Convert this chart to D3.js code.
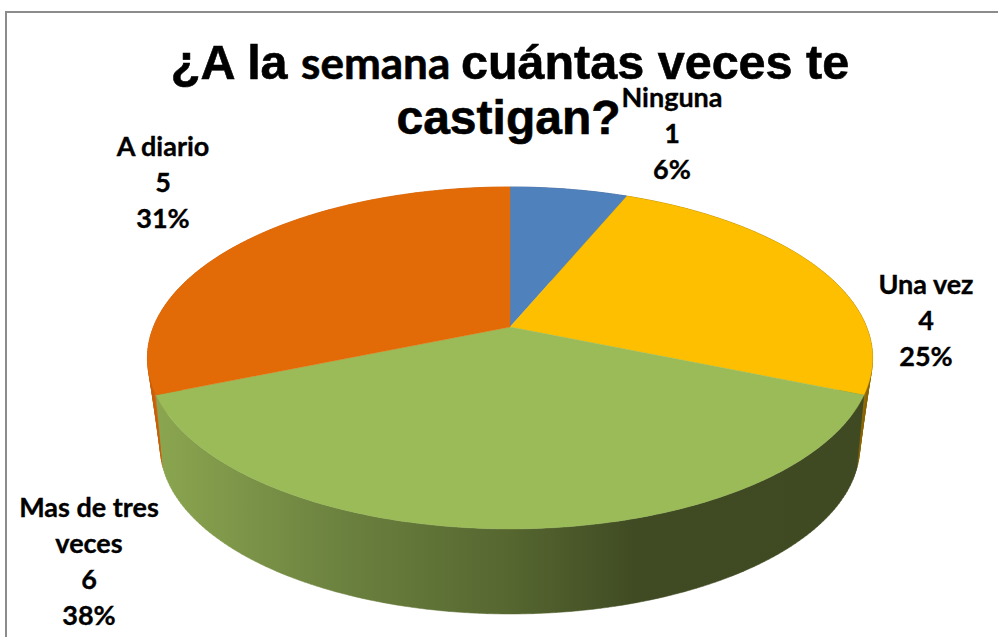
<!DOCTYPE html>
<html><head><meta charset="utf-8">
<script src="https://cdn.jsdelivr.net/npm/d3@7/dist/d3.min.js"></script>
<style>html,body{margin:0;padding:0;background:#fff;overflow:hidden}svg{display:block}</style>
</head><body>
<script>
const categories = ["Ninguna", "Una vez", "Mas de tres veces", "A diario"];
const values = [1, 4, 6, 5];
const labelLines = [["Ninguna"], ["Una vez"], ["Mas de tres", "veces"], ["A diario"]];
const titleLine1 = [["¿A la ", "arial"], ["semana ", "calibri"], ["cuántas veces te", "arial"]];
const titleLine2 = "castigan?";

const colors = ["#4f81bd", "#fdbf00", "#9bbb59", "#e26b08"];
const wallColors = ["#3a5a80", "#8a6400", "url(#greenWall)", "#c95f08"];
const labelAnchors = [[672, 107], [926, 294], [89, 517], [163, 156]];

const W = 998, H = 637;
const svg = d3.select("body").append("svg").attr("width", W).attr("height", H);

// Perspective projections of the top and bottom rims of the disc
const topRim = {cx: 510, cy: 327, a: 356.6, b: 165.4, k: -0.181};
const botRim = {cx: 510, cy: 401.8, a: 336.7, b: 154.9, k: -0.27};
const project = (p, t) => {
  const u = Math.sin(t), v = -Math.cos(t), d = 1 + p.k * v;
  return [p.cx + p.a * u / d, p.cy + p.b * v / d];
};

const pie = d3.pie().sort(null).value(d => d);
const arcs = pie(values);
const total = d3.sum(values);
const pct = d3.format(".0%");
const samples = a => {
  const n = Math.max(8, Math.ceil((a.endAngle - a.startAngle) * 60));
  return d3.range(n + 1).map(i => a.startAngle + (a.endAngle - a.startAngle) * i / n);
};

const defs = svg.append("defs");
const grad = defs.append("linearGradient").attr("id", "greenWall")
  .attr("gradientUnits", "userSpaceOnUse").attr("x1", 155).attr("x2", 860).attr("y1", 0).attr("y2", 0);
[[0, "#8ba650"], [0.25, "#6d8340"], [0.5, "#566730"], [0.68, "#404b23"], [1, "#3f4a22"]]
  .forEach(s => grad.append("stop").attr("offset", s[0]).attr("stop-color", s[1]));

// Frame
const frame = svg.append("g").attr("stroke", "#8c8c8c").attr("stroke-width", 2);
frame.append("line").attr("x1", 6).attr("x2", 6).attr("y1", 11).attr("y2", H);
frame.append("line").attr("x1", 5).attr("x2", W).attr("y1", 12).attr("y2", 12);

// Side walls, back slices first
const wallOrder = [3, 0, 1, 2];
wallOrder.forEach(i => {
  const ts = samples(arcs[i]);
  const p = d3.path();
  for (let j = 0; j < ts.length - 1; j++) {
    const a = project(topRim, ts[j]), b = project(topRim, ts[j + 1]);
    const c = project(botRim, ts[j + 1]), d = project(botRim, ts[j]);
    p.moveTo(a[0], a[1]); p.lineTo(b[0], b[1]); p.lineTo(c[0], c[1]); p.lineTo(d[0], d[1]); p.closePath();
  }
  svg.append("path").attr("d", p.toString()).attr("fill", wallColors[i])
    .attr("stroke", wallColors[i]).attr("stroke-width", 0.5);
});

// Top faces
const line = d3.line();
svg.append("g").selectAll("path").data(arcs).join("path")
  .attr("d", a => line([[topRim.cx, topRim.cy], ...samples(a).map(t => project(topRim, t))]) + "Z")
  .attr("fill", (a, i) => colors[i])
  .attr("stroke", (a, i) => colors[i]).attr("stroke-width", 0.4);

// Title
const ARIAL = "'Liberation Sans', Arial, sans-serif", CALIBRI = "Lato, Carlito, sans-serif";
const t1 = svg.append("text").attr("x", 510).attr("y", 79).attr("text-anchor", "middle")
  .attr("font-weight", 700).attr("fill", "#000").attr("stroke", "#000").attr("stroke-width", 0.6);
titleLine1.forEach(s => t1.append("tspan")
  .attr("font-family", s[1] === "arial" ? ARIAL : CALIBRI)
  .attr("font-size", s[1] === "arial" ? 48.5 : 44).style("white-space", "pre").text(s[0]));
svg.append("text").attr("x", 508.5).attr("y", 134).attr("text-anchor", "middle")
  .attr("font-family", ARIAL).attr("font-size", 48).attr("font-weight", 700)
  .attr("stroke", "#000").attr("stroke-width", 0.6).text(titleLine2);

// Data labels
arcs.forEach((a, i) => {
  const lines = [...labelLines[i], String(values[i]), pct(values[i] / total)];
  const g = svg.append("text").attr("text-anchor", "middle")
    .attr("font-family", CALIBRI).attr("font-size", 27).attr("font-weight", 700)
    .attr("fill", "#000").attr("stroke", "#000").attr("stroke-width", 0.35);
  lines.forEach((l, j) => g.append("tspan").attr("x", labelAnchors[i][0])
    .attr("y", labelAnchors[i][1] + j * 36).text(l));
});
</script>
</body></html>
